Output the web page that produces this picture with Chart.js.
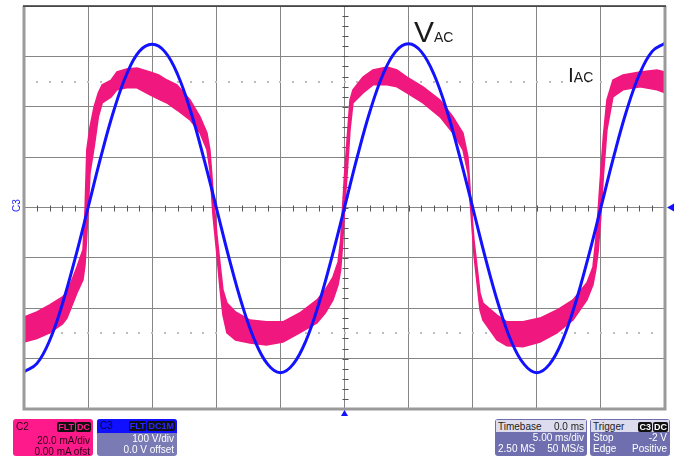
<!DOCTYPE html>
<html>
<head>
<meta charset="utf-8">
<script src="https://cdn.jsdelivr.net/npm/chart.js@4.4.1/dist/chart.umd.min.js"></script>
<style>
  html, body { margin: 0; padding: 0; background: #fff; }
  #wrap { position: relative; width: 678px; height: 457px; font-family: "Liberation Sans", Arial, sans-serif; }
  canvas { position: absolute; left: 0; top: 0; }
  .lbl { position: absolute; color: #1a1a1a; line-height: 1; white-space: nowrap; }
  .box { position: absolute; top: 419px; height: 37px; border-radius: 3px; overflow: hidden; font-size: 10px; line-height: 11px; }
  .row { position: relative; height: 11px; padding: 0 3px; }
  .r { text-align: right; }
  .badge { display: inline-block; background: #111; border-radius: 2px; padding: 0 1px; font-weight: bold; font-size: 9px; line-height: 10px; margin-left: 1px; }
</style>
</head>
<body>
<div id="wrap">
  <canvas id="scope" width="678" height="457"></canvas>

  <div class="lbl" style="left:414px; top:17px; font-size:30px;">V<span style="font-size:14px;">AC</span></div>
  <div class="lbl" style="left:568px; top:64px; font-size:21px;">I<span style="font-size:14px;">AC</span></div>
  <div class="lbl" style="left:12px; top:212px; font-size:10px; color:#2020ff; transform:rotate(-90deg); transform-origin:left top;">C3</div>

  <!-- channel 2 -->
  <div class="box" style="left:13px; width:80px; background:#ff1a8c; color:#2a0014;">
    <div class="row" style="margin-top:2px;">C2<span style="position:absolute; right:2px; top:0;"><span class="badge" style="color:#ff1a8c;">FLT</span><span class="badge" style="color:#ff1a8c;">DC</span></span></div>
    <div class="row r" style="margin-top:3px;">20.0 mA/div</div>
    <div class="row r">0.00 mA ofst</div>
  </div>
  <!-- channel 3 -->
  <div class="box" style="left:97px; width:80px; background:#7a7ab4; color:#fff;">
    <div class="row" style="background:#1010ff; height:13px; padding-top:1px; color:#000050;">C3<span style="position:absolute; right:2px; top:1px;"><span class="badge" style="color:#2a2aff;">FLT</span><span class="badge" style="color:#2a2aff;">DC1M</span></span></div>
    <div class="row r">100 V/div</div>
    <div class="row r">0.0 V offset</div>
  </div>
  <!-- timebase -->
  <div class="box" style="left:495px; width:92px; background:#6f6fb0; color:#fff;">
    <div class="row" style="background:#dcdcee; color:#222; margin:1px 1px 0 1px; padding:1px 2px 0 2px;">Timebase<span style="position:absolute; right:2px;">0.0 ms</span></div>
    <div class="row r">5.00 ms/div</div>
    <div class="row">2.50 MS<span style="position:absolute; right:3px;">50 MS/s</span></div>
  </div>
  <!-- trigger -->
  <div class="box" style="left:590px; width:80px; background:#6f6fb0; color:#fff;">
    <div class="row" style="background:#dcdcee; color:#222; margin:1px 1px 0 1px; padding:1px 2px 0 2px;">Trigger<span style="position:absolute; right:1px; top:1px;"><span class="badge" style="color:#fff;">C3</span><span class="badge" style="color:#fff;">DC</span></span></div>
    <div class="row">Stop<span style="position:absolute; right:3px;">-2 V</span></div>
    <div class="row">Edge<span style="position:absolute; right:3px;">Positive</span></div>
  </div>
</div>

<script>
// time in ms, 5 ms/div, 10 divisions
const voltTime = [0,1,2,3,4,5,6,7,8,9,10,11,12,13,14,15,16,17,18,19,20,21,22,23,24,25,
                  26,27,28,29,30,31,32,33,34,35,36,37,38,39,40,41,42,43,44,45,46,47,48,49,50];
// V_AC in volts, 100 V/div
const voltValues = [-326,-310,-264,-191,-100,0,101,192,264,310,324,309,263,191,100,0,-101,-192,-264,-311,-328,
                    -311,-264,-191,-100,0,101,192,264,310,325,309,263,191,100,0,-101,-192,-265,-311,-328,
                    -311,-264,-191,-100,0,101,192,264,310,326];

// I_AC in mA, 20 mA/div: upper and lower edge of the noisy trace
const currentTime = [0,1,2,3,3.35,4.13,4.6,4.76,4.9,5.15,5.47,5.8,6.1,6.8,7.25,8,8.81,9.83,10.5,11.15,11.93,12.95,13.73,14.27,14.5,
                     14.74,15.05,15.3,15.52,15.83,16.5,17.63,18.9,20.2,21.5,22.85,23.5,24.1,24.5,24.7,24.85,25,25.2,25.43,25.66,
                     26.44,27.22,28.31,29.09,29.87,31.12,32.45,33.46,34.24,34.63,34.85,35.1,35.57,35.8,36.89,37.67,38.92,
                     40.25,41.57,42.82,43.91,44.38,44.6,44.8,45,45.2,45.47,45.94,46.72,48.05,49.37,50];
const currentUpper = [-43.5,-41.5,-38.7,-35.5,-33.9,-23.6,-16.8,-1,22.9,32,40,45.5,48.7,50.6,53.8,55,55.4,53.8,52.6,50.6,48.7,42.7,36,29.6,22.9,
                      7,-10.9,-22.8,-32.7,-37.9,-41.5,-44.7,-45.4,-45.4,-41.9,-36.7,-32.7,-27.6,-21.6,-12.9,0,13,26.8,42.7,46.7,
                      51.8,54.6,55.8,54.6,51.8,47.9,42.7,36,29.6,20.1,3,-12.9,-33.9,-37.9,-42.7,-45.4,-45.4,
                      -43.9,-40.7,-36.7,-29.9,-23.6,-12.9,0,15,28.8,42.7,50.6,52.6,53.8,54.6,53.8];
const currentLower = [-53.4,-52,-49.8,-46.2,-43.9,-33.9,-28.7,-22.8,-10.9,13.7,24,36,41.5,43.9,46.7,47.5,47.5,44.7,43,41.5,38.7,34.8,29.6,22.9,15,
                      -3,-18.9,-32.7,-42.7,-49.8,-52.6,-53.8,-54.6,-53.4,-49.8,-45.8,-41.9,-36.7,-30.7,-24.8,-14.8,-1,13,30.8,41.5,
                      45.5,48.7,48.7,47.9,45.5,41.5,36,29.6,22.9,13.7,-1,-18.9,-40.7,-44.7,-52.6,-54.9,-55.3,
                      -53.4,-49.8,-44.7,-36.7,-30.7,-24.8,-16.8,-3,13,30.8,43.9,46.7,47.9,46.7,45.5];

const dottedLevels = [50, -50];   // mA, faint dotted reference lines

const blue = '#1212ff';
const pink = '#f0187e';

function pts(xs, ys) {
  return xs.map((t, i) => ({ x: t, y: ys[i] }));
}

const scopePlugin = {
  id: 'scope',
  beforeDatasetsDraw(chart) {
    const { ctx, chartArea: a, scales: { x, y } } = chart;
    const cx = Math.round(x.getPixelForValue(25)) + 0.5;
    const cy = Math.round(y.getPixelForValue(0)) + 0.5;
    ctx.save();
    // minor ticks on the centre axes
    ctx.strokeStyle = '#555';
    ctx.lineWidth = 1;
    ctx.beginPath();
    for (let t = 0; t <= 50; t += 1) {
      const px = Math.round(x.getPixelForValue(t)) + 0.5;
      ctx.moveTo(px, cy - 3); ctx.lineTo(px, cy + 3);
    }
    for (let v = -80; v <= 80; v += 4) {
      const py = Math.round(y.getPixelForValue(v)) + 0.5;
      ctx.moveTo(cx - 3, py); ctx.lineTo(cx + 3, py);
    }
    ctx.stroke();
    // dotted reference lines
    ctx.fillStyle = '#bdbdbd';
    dottedLevels.forEach(lv => {
      const py = Math.round(y.getPixelForValue(lv));
      for (let t = 1; t < 50; t += 1) {
        const px = Math.round(x.getPixelForValue(t));
        ctx.fillRect(px - 1, py - 1, 2, 2);
      }
    });
    ctx.restore();
  },
  afterDraw(chart) {
    const { ctx, chartArea: a, scales: { x, y } } = chart;
    ctx.save();
    // frame
    ctx.strokeStyle = '#9a9a9a';
    ctx.lineWidth = 3;
    ctx.beginPath();
    ctx.moveTo(a.left, a.top); ctx.lineTo(a.left, a.bottom); ctx.lineTo(a.right, a.bottom); ctx.lineTo(a.right, a.top);
    ctx.stroke();
    ctx.strokeStyle = '#333';
    ctx.lineWidth = 1.5;
    ctx.beginPath();
    ctx.moveTo(a.left - 1, a.top); ctx.lineTo(a.right + 1, a.top);
    ctx.stroke();
    // trigger markers
    const cx = x.getPixelForValue(25);
    const cy = y.getPixelForValue(0);
    ctx.fillStyle = blue;
    ctx.beginPath();
    ctx.moveTo(cx, a.bottom + 1); ctx.lineTo(cx - 3.5, a.bottom + 7); ctx.lineTo(cx + 3.5, a.bottom + 7);
    ctx.closePath(); ctx.fill();
    ctx.beginPath();
    ctx.moveTo(a.right + 2, cy); ctx.lineTo(a.right + 9, cy - 4); ctx.lineTo(a.right + 9, cy + 4);
    ctx.closePath(); ctx.fill();
    ctx.restore();
  }
};

new Chart(document.getElementById('scope'), {
  type: 'line',
  data: {
    datasets: [
      {
        label: 'VAC',
        data: pts(voltTime, voltValues),
        yAxisID: 'yv',
        borderColor: blue,
        borderWidth: 3,
        tension: 0.4,
        pointRadius: 0,
        fill: false
      },
      {
        label: 'IAC upper',
        data: pts(currentTime, currentUpper),
        yAxisID: 'y',
        borderColor: pink,
        backgroundColor: pink,
        borderWidth: 1.5,
        tension: 0,
        pointRadius: 0,
        fill: '+1'
      },
      {
        label: 'IAC lower',
        data: pts(currentTime, currentLower),
        yAxisID: 'y',
        borderColor: pink,
        borderWidth: 1.5,
        tension: 0,
        pointRadius: 0,
        fill: false
      }
    ]
  },
  options: {
    responsive: false,
    animation: false,
    devicePixelRatio: 1,
    layout: { padding: { left: 24, right: 13, top: 6, bottom: 48 } },
    plugins: { legend: { display: false }, tooltip: { enabled: false } },
    scales: {
      x: {
        type: 'linear', min: 0, max: 50,
        ticks: { display: false, stepSize: 5 },
        grid: { color: '#858585', lineWidth: 1, drawTicks: false },
        border: { display: false }
      },
      y: {
        type: 'linear', min: -80, max: 80,
        ticks: { display: false, stepSize: 20 },
        grid: { color: '#858585', lineWidth: 1, drawTicks: false },
        border: { display: false }
      },
      yv: {
        type: 'linear', min: -400, max: 400,
        display: false
      }
    }
  },
  plugins: [scopePlugin]
});
</script>
</body>
</html>
